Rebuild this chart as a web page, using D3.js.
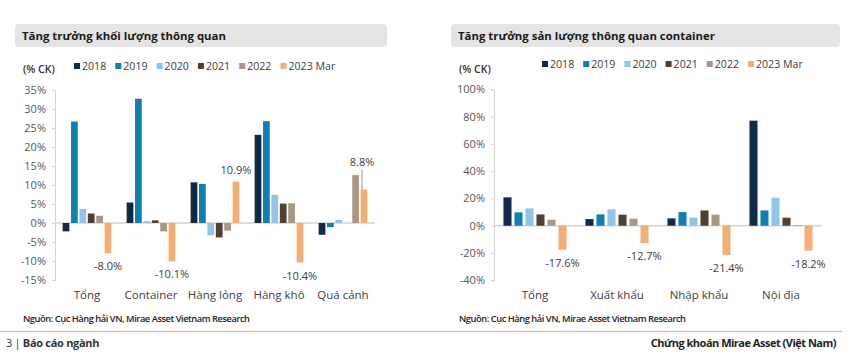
<!DOCTYPE html>
<html><head><meta charset="utf-8">
<script src="https://cdn.jsdelivr.net/npm/d3@7"></script>
<style>
body{margin:0;background:#fff;}
svg{display:block;font-family:"Open Sans","Noto Sans",sans-serif;}
</style></head>
<body><svg id="c" width="850" height="356"></svg>
<script>
// ---- data ----
const seriesNames = ["2018","2019","2020","2021","2022","2023 Mar"];
const seriesColors = ["#0f2a4a","#0f7fb3","#8ec5e8","#4f4131","#aa9783","#f5ae72"];

const volCategories = ["Tổng","Container","Hàng lỏng","Hàng khô","Quá cảnh"];
const vol2018 = [-2.2, 5.4, 10.7, 23.2, -3.1];
const vol2019 = [26.7, 32.7, 10.3, 26.8, -1.1];
const vol2020 = [3.7, 0.5, -3.2, 7.4, 0.8];
const vol2021 = [2.5, 0.7, -3.8, 5.1, 0.0];
const vol2022 = [1.9, -2.2, -2.0, 5.2, 12.6];
const vol2023Mar = [-8.0, -10.1, 10.9, -10.4, 8.8];
const volTicks = [35, 30, 25, 20, 15, 10, 5, 0, -5, -10, -15];

const contCategories = ["Tổng","Xuất khẩu","Nhập khẩu","Nội địa"];
const cont2018 = [20.8, 4.9, 5.4, 77.0];
const cont2019 = [9.8, 8.3, 10.0, 11.2];
const cont2020 = [12.7, 12.0, 5.9, 20.5];
const cont2021 = [8.3, 8.1, 11.2, 5.9];
const cont2022 = [4.4, 5.1, 8.1, 0.5];
const cont2023Mar = [-17.6, -12.7, -21.4, -18.2];
const contTicks = [100, 80, 60, 40, 20, 0, -20, -40];

const svg = d3.select("#c");

function drawChart(opt) {
  const g = svg.append("g");
  // title box
  g.append("rect").attr("x", opt.boxX).attr("y", 24).attr("width", opt.boxW).attr("height", 23)
    .attr("rx", 4).attr("fill", "#e4e4e4");
  g.append("text").attr("x", opt.boxX + 7).attr("y", 40).text(opt.title)
    .attr("font-size", 11.4).attr("font-weight", 700).attr("fill", "#1a1a1a");
  // unit
  g.append("text").attr("x", opt.unitX).attr("y", 73).text("(% CK)")
    .attr("font-size", 10.5).attr("font-weight", 600).attr("fill", "#333");
  // legend
  seriesNames.forEach((s, i) => {
    const lx = opt.legX + i * opt.legStep;
    g.append("rect").attr("x", lx).attr("y", opt.legY - 3).attr("width", 6).attr("height", 6).attr("fill", seriesColors[i]);
    g.append("text").attr("x", lx + 8).attr("y", opt.legY + 4).text(s)
      .attr("font-size", 10.6).attr("fill", "#404040");
  });

  const y = d3.scaleLinear().domain(opt.yDomain).range(opt.yRange);
  const x0 = d3.scaleBand().domain(opt.categories).range(opt.xRange).padding(0);
  const x1 = d3.scaleBand().domain(seriesNames).range([0, x0.bandwidth()])
    .paddingInner(opt.pIn).paddingOuter(opt.pOut);

  // y axis
  const yAxis = d3.axisLeft(y).tickValues(opt.ticks).tickSize(3).tickPadding(6)
    .tickFormat(d => d + "%");
  const ya = g.append("g").attr("transform", `translate(${opt.xRange[0]},0)`).call(yAxis);
  ya.select(".domain").attr("stroke", "#d4d4d4");
  ya.selectAll(".tick line").attr("stroke", "#d4d4d4");
  ya.selectAll(".tick text").attr("font-size", 11).attr("fill", "#595959")
    .attr("font-family", "'Open Sans','Noto Sans',sans-serif");

  // zero line
  g.append("line").attr("x1", opt.xRange[0]).attr("x2", opt.xRange[1])
    .attr("y1", y(0)).attr("y2", y(0)).attr("stroke", "#d4d4d4").attr("stroke-width", 1.5);

  // bars
  opt.series.forEach((vals, si) => {
    g.append("g").selectAll("rect").data(vals).join("rect")
      .attr("x", (d, i) => x0(opt.categories[i]) + x1(seriesNames[si]))
      .attr("width", x1.bandwidth())
      .attr("y", d => y(Math.max(0, d)))
      .attr("height", d => Math.abs(y(d) - y(0)))
      .attr("fill", seriesColors[si]);
  });

  // labels for last series
  const last = opt.series[opt.series.length - 1];
  last.forEach((v, i) => {
    const cx = x0(opt.categories[i]) + x1(seriesNames[5]) + x1.bandwidth() / 2;
    const lift = (opt.liftIdx === i) ? opt.lift : 0;
    const ly = v < 0 ? y(v) + 17 : y(v) - 8 - lift;
    const lx = (opt.liftIdx === i) ? cx - 2 : cx;
    g.append("text").attr("x", lx).attr("y", ly).attr("text-anchor", "middle")
      .text(v.toFixed(1) + "%").attr("font-size", 11).attr("fill", "#404040");
    if (opt.liftIdx === i) {
      g.append("line").attr("x1", lx).attr("x2", lx).attr("y1", ly + 4).attr("y2", y(v))
        .attr("stroke", "#808080").attr("stroke-width", 0.8);
    }
  });

  // categories
  g.append("g").selectAll("text").data(opt.categories).join("text")
    .attr("x", d => x0(d) + x0.bandwidth() / 2).attr("y", 299).attr("text-anchor", "middle")
    .text(d => d).attr("font-size", 11.5).attr("fill", "#404040");

  // source
  g.append("text").attr("x", opt.unitX).attr("y", 322)
    .text("Nguồn: Cục Hàng hải VN, Mirae Asset Vietnam Research")
    .attr("font-size", 9.3).attr("font-weight", 600).attr("fill", "#222")
    .attr("letter-spacing", -0.45);
}

drawChart({
  title: "Tăng trưởng khối lượng thông quan",
  boxX: 15, boxW: 372, unitX: 23,
  legX: 74, legStep: 41.3, legY: 66,
  categories: volCategories,
  series: [vol2018, vol2019, vol2020, vol2021, vol2022, vol2023Mar],
  ticks: volTicks, yDomain: [-15, 35], yRange: [280, 90],
  xRange: [55, 375], pIn: 0.2, pOut: 0.91,
  liftIdx: 4, lift: 16
});

drawChart({
  title: "Tăng trưởng sản lượng thông quan container",
  boxX: 451, boxW: 389, unitX: 459,
  legX: 542, legStep: 41.2, legY: 64,
  categories: contCategories,
  series: [cont2018, cont2019, cont2020, cont2021, cont2022, cont2023Mar],
  ticks: contTicks, yDomain: [-40, 100], yRange: [280.3, 89.3],
  xRange: [494, 822], pIn: 0.27, pOut: 0.86,
  liftIdx: -1, lift: 0
});

// footer
svg.append("line").attr("x1", 0).attr("x2", 842).attr("y1", 331.5).attr("y2", 331.5)
  .attr("stroke", "#cdc4b8").attr("stroke-width", 1.5);
svg.append("text").attr("x", 6).attr("y", 347).attr("font-size", 11).attr("fill", "#333")
  .attr("letter-spacing", -0.3)
  .html('3 | <tspan font-weight="700">Báo cáo ngành</tspan>');
svg.append("text").attr("x", 836).attr("y", 347).attr("text-anchor", "end")
  .attr("font-size", 11).attr("font-weight", 700).attr("fill", "#222").attr("letter-spacing", -0.5)
  .text("Chứng khoán Mirae Asset (Việt Nam)");
</script></body></html>
